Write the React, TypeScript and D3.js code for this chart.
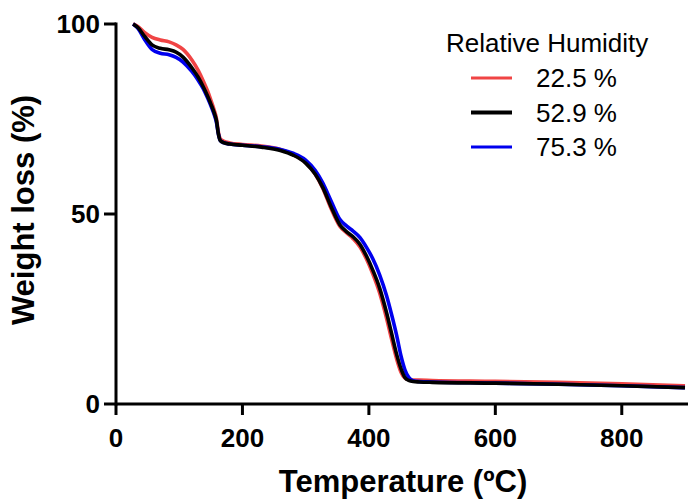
import React from 'react'
import { scaleLinear, line, curveMonotoneX } from 'd3'

const temps = [
  27, 35, 45, 57, 70, 84, 95, 106, 120, 130, 138, 145, 150, 155, 159, 162, 165, 170, 180, 200, 230, 260, 280, 300,
  315, 327, 340, 354, 365, 375, 386, 396, 406, 417, 428, 436, 444, 451, 457, 463, 470, 480, 500, 600, 700, 800, 900
]

const rh225 = [
  100, 99.3, 97.8, 96.5, 95.8, 95.3, 94.5, 93.3, 90.5, 87.8, 85, 82.3, 80, 77.5, 75, 71.5, 69.8, 69.2, 68.7, 68.3,
  67.9, 67, 65.7, 63.5, 60.5, 56.8, 51.5, 46.8, 45, 43.5, 41.3, 38.2, 34.3, 29.2, 22.5, 17, 11.8, 8.3, 6.8, 6.4, 6.3,
  6.3, 6.2, 6.0, 5.7, 5.3, 4.8
]

const rh529 = [
  100, 99, 96.8, 94.5, 93.6, 93.2, 92.6, 91.3, 88.5, 86, 83.5, 81, 79, 76.8, 74.5, 71, 69.3, 68.8, 68.4, 68.1, 67.6,
  66.7, 65.5, 63.4, 60.5, 57, 52, 47.2, 45.3, 44, 42, 39, 35.3, 30.5, 24, 18.5, 13, 9.2, 7, 6.2, 5.9, 5.8, 5.7, 5.5,
  5.2, 4.8, 4.3
]

const rh753 = [
  100, 98.8, 96, 93.3, 92.3, 91.9, 91.2, 90, 87.5, 85.2, 83, 80.5, 78.5, 76.3, 74, 71, 69.3, 68.8, 68.4, 68.1, 67.7,
  67, 66, 64.2, 61.5, 58.2, 53.5, 48.6, 46.8, 45.5, 43.8, 41.3, 38.3, 34, 28.5, 23.5, 18, 12.5, 9, 7, 6.1, 5.9, 5.8,
  5.5, 5.2, 4.8, 4.3
]

const legendTitle = 'Relative Humidity'
const seriesNames = ['22.5 %', '52.9 %', '75.3 %']
const seriesColors = ['#f04444', '#000000', '#0000ee']
const xTicks = [0, 200, 400, 600, 800]
const yTicks = [0, 50, 100]

const W = 688
const H = 499
const FONT = '"Liberation Sans", Arial, Helvetica, sans-serif'

export default function App() {
  const x = scaleLinear().domain([0, 900]).range([116, 685])
  const y = scaleLinear().domain([0, 100]).range([404, 24])

  const series = [rh225, rh529, rh753]
  const mk = (vals: number[]) =>
    line<number>()
      .x((_, i) => x(temps[i]))
      .y((d) => y(d))
      .curve(curveMonotoneX)(vals) || ''

  // draw order: red, blue, black on top
  const order = [0, 2, 1]

  return (
    <svg width={W} height={H} style={{ position: 'absolute', left: 0, top: 0, background: '#fff' }} fontFamily={FONT}>
      <rect width={W} height={H} fill="#fff" />
      <g className="lines">
        {order.map((k) => (
          <path key={k} d={mk(series[k])} fill="none" stroke={seriesColors[k]} strokeWidth={3.6} strokeLinejoin="round" />
        ))}
      </g>
      <g className="axes" stroke="#000" strokeWidth={3}>
        <line x1={x(0)} x2={W} y1={y(0)} y2={y(0)} />
        <line x1={x(0)} x2={x(0)} y1={y(100) - 1.5} y2={y(0) + 1.5} />
        {xTicks.map((t) => (
          <line key={t} x1={x(t)} x2={x(t)} y1={y(0)} y2={y(0) + 11} />
        ))}
        {yTicks.map((t) => (
          <line key={t} x1={x(0) - 12} x2={x(0)} y1={y(t)} y2={y(t)} />
        ))}
      </g>
      <g className="tick-labels" fontWeight="bold" fontSize={26} fill="#000">
        {xTicks.map((t) => (
          <text key={t} x={x(t)} y={447} textAnchor="middle">
            {t}
          </text>
        ))}
        {yTicks.map((t) => (
          <text key={t} x={100} y={y(t)} dy="0.35em" textAnchor="end">
            {t}
          </text>
        ))}
      </g>
      <text x={403} y={492} textAnchor="middle" fontWeight="bold" fontSize={31}>
        Temperature (ºC)
      </text>
      <text transform="translate(34,210) rotate(-90)" textAnchor="middle" fontWeight="bold" fontSize={31}>
        Weight loss (%)
      </text>
      <g className="legend" fontSize={26}>
        <text x={446} y={52}>
          {legendTitle}
        </text>
        {seriesNames.map((n, i) => (
          <g key={n} transform={`translate(0, ${i * 34.5})`}>
            <line x1={471} x2={512} y1={78} y2={78} stroke={seriesColors[i]} strokeWidth={i === 1 ? 4 : 3.2} />
            <text x={536} y={87}>
              {n}
            </text>
          </g>
        ))}
      </g>
    </svg>
  )
}
